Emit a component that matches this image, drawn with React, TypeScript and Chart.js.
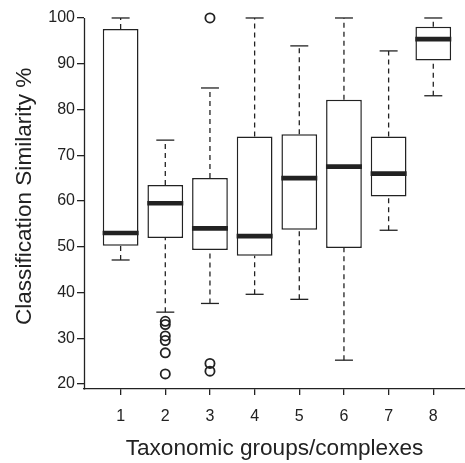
import { useEffect, useRef } from 'react';
import { Chart, registerables } from 'chart.js';

Chart.register(...registerables);

// ---- data ----
const categories = [1, 2, 3, 4, 5, 6, 7, 8];
const upperWhisker = [100, 73.3, 84.7, 100, 93.9, 100, 92.8, 100];
const upperQuartile = [97.6, 63.5, 65.0, 74.1, 74.6, 82.1, 74.1, 98.1];
const medians = [53.0, 59.5, 54.0, 52.3, 65.0, 67.5, 66.0, 95.4];
const lowerQuartile = [50.2, 51.9, 49.3, 48.0, 53.7, 49.7, 61.0, 90.7];
const lowerWhisker = [47.1, 35.7, 37.6, 39.6, 38.5, 25.2, 53.6, 83.0];
const outlierGroup = [2, 2, 2, 2, 2, 2, 3, 3, 3];
const outlierValue = [33.7, 33.0, 30.5, 29.5, 26.8, 22.2, 100, 24.5, 22.8];
const yTicks = [20, 30, 40, 50, 60, 70, 80, 90, 100];
const xTitle = 'Taxonomic groups/complexes';
const yTitle = 'Classification Similarity %';

const INK = '#222222';
const FAMILY = "'Liberation Sans', Arial, Helvetica, sans-serif";

const yAxisLine = {
  id: 'yAxisLine',
  afterDraw(chart: any) {
    const ys = chart.scales.y;
    const area = chart.chartArea;
    const ctx = chart.ctx;
    const top = ys.getPixelForValue(yTicks[yTicks.length - 1]);
    const x = Math.round(area.left) + 0.5;
    ctx.save();
    ctx.strokeStyle = INK;
    ctx.lineWidth = 1.3;
    ctx.beginPath();
    ctx.moveTo(x, top);
    ctx.lineTo(x, area.bottom + 0.5);
    ctx.stroke();
    ctx.restore();
  },
};

export default function App() {
  const ref = useRef<HTMLCanvasElement | null>(null);

  useEffect(() => {
    if (!ref.current) return;

    const boxes = categories.map((c, i) => ({ x: c, y: [lowerQuartile[i], upperQuartile[i]] }));
    const whiskers = categories.flatMap((c, i) => [
      { x: c, y: upperQuartile[i] },
      { x: c, y: upperWhisker[i] },
      { x: c, y: null },
      { x: c, y: lowerWhisker[i] },
      { x: c, y: lowerQuartile[i] },
      { x: c, y: null },
    ]);
    const caps = categories.flatMap((c, i) => [
      { x: c, y: upperWhisker[i] },
      { x: c, y: lowerWhisker[i] },
    ]);
    const medianPts = categories.map((c, i) => ({ x: c, y: medians[i] }));
    const outliers = outlierGroup.map((g, i) => ({ x: g, y: outlierValue[i] }));

    const chart = new Chart(ref.current, {
      type: 'bar',
      data: {
        datasets: [
          {
            type: 'scatter',
            data: medianPts,
            pointStyle: 'line',
            pointRadius: 18,
            pointBorderWidth: 4.7,
            pointBorderColor: INK,
            pointBackgroundColor: INK,
            order: 0,
            clip: false,
          } as any,
          {
            type: 'scatter',
            data: outliers,
            pointStyle: 'circle',
            pointRadius: 4.6,
            pointBorderWidth: 1.8,
            pointBorderColor: INK,
            pointBackgroundColor: 'rgba(0,0,0,0)',
            order: 1,
            clip: false,
          } as any,
          {
            type: 'scatter',
            data: caps,
            pointStyle: 'line',
            pointRadius: 9,
            pointBorderWidth: 1.3,
            pointBorderColor: INK,
            order: 1,
            clip: false,
          } as any,
          {
            type: 'line',
            data: whiskers,
            borderColor: INK,
            borderWidth: 1.3,
            borderDash: [5, 4],
            pointRadius: 0,
            spanGaps: false,
            fill: false,
            order: 2,
            clip: false,
          } as any,
          {
            type: 'bar',
            data: boxes,
            backgroundColor: '#ffffff',
            borderColor: INK,
            borderWidth: 1.5,
            borderSkipped: false,
            categoryPercentage: 0.8,
            barPercentage: 1,
            order: 3,
          } as any,
        ],
      },
      options: {
        responsive: false,
        animation: false,
        events: [],
        layout: { autoPadding: false, padding: { top: 3.8, left: 0, right: 0, bottom: 0 } },
        plugins: {
          legend: { display: false },
          tooltip: { enabled: false },
        },
        scales: {
          x: {
            type: 'linear',
            min: 0.18,
            max: 8.71,
            offset: false,
            afterBuildTicks: (s: any) => {
              s.ticks = categories.map((v) => ({ value: v }));
            },
            afterFit: (s: any) => {
              s.height = 74;
              s.paddingLeft = 0;
              s.paddingRight = 0;
            },
            ticks: {
              callback: (v: any) => String(v),
              font: { family: FAMILY, size: 16 },
              color: INK,
              padding: 12,
              maxRotation: 0,
              autoSkip: false,
            },
            grid: { offset: false, drawOnChartArea: false, drawTicks: true, tickLength: 6, color: INK, lineWidth: 1.3 },
            border: { display: true, color: INK, width: 1.3 },
            title: {
              display: true,
              text: xTitle,
              font: { family: FAMILY, size: 22.6 },
              color: INK,
              padding: { top: 0, bottom: 1 },
            },
          },
          y: {
            type: 'linear',
            min: 18.9,
            max: 103.1,
            afterBuildTicks: (s: any) => {
              s.ticks = yTicks.map((v) => ({ value: v }));
            },
            afterFit: (s: any) => {
              s.width = 84;
              s.paddingTop = 0;
              s.paddingBottom = 0;
            },
            ticks: {
              callback: (v: any) => String(v),
              font: { family: FAMILY, size: 16 },
              color: INK,
              padding: 2,
            },
            grid: { drawOnChartArea: false, drawTicks: true, tickLength: 7, color: INK, lineWidth: 1.3 },
            border: { display: false },
            title: {
              display: true,
              text: yTitle,
              font: { family: FAMILY, size: 22.6 },
              color: INK,
              padding: { top: 11, bottom: 0 },
            },
          },
        },
      } as any,
      plugins: [yAxisLine],
    });

    return () => chart.destroy();
  }, []);

  return (
    <div style={{ position: 'absolute', left: 0, top: 0, width: 465, height: 463, background: '#fff' }}>
      <canvas ref={ref} width={465} height={463} style={{ display: 'block' }} />
    </div>
  );
}
